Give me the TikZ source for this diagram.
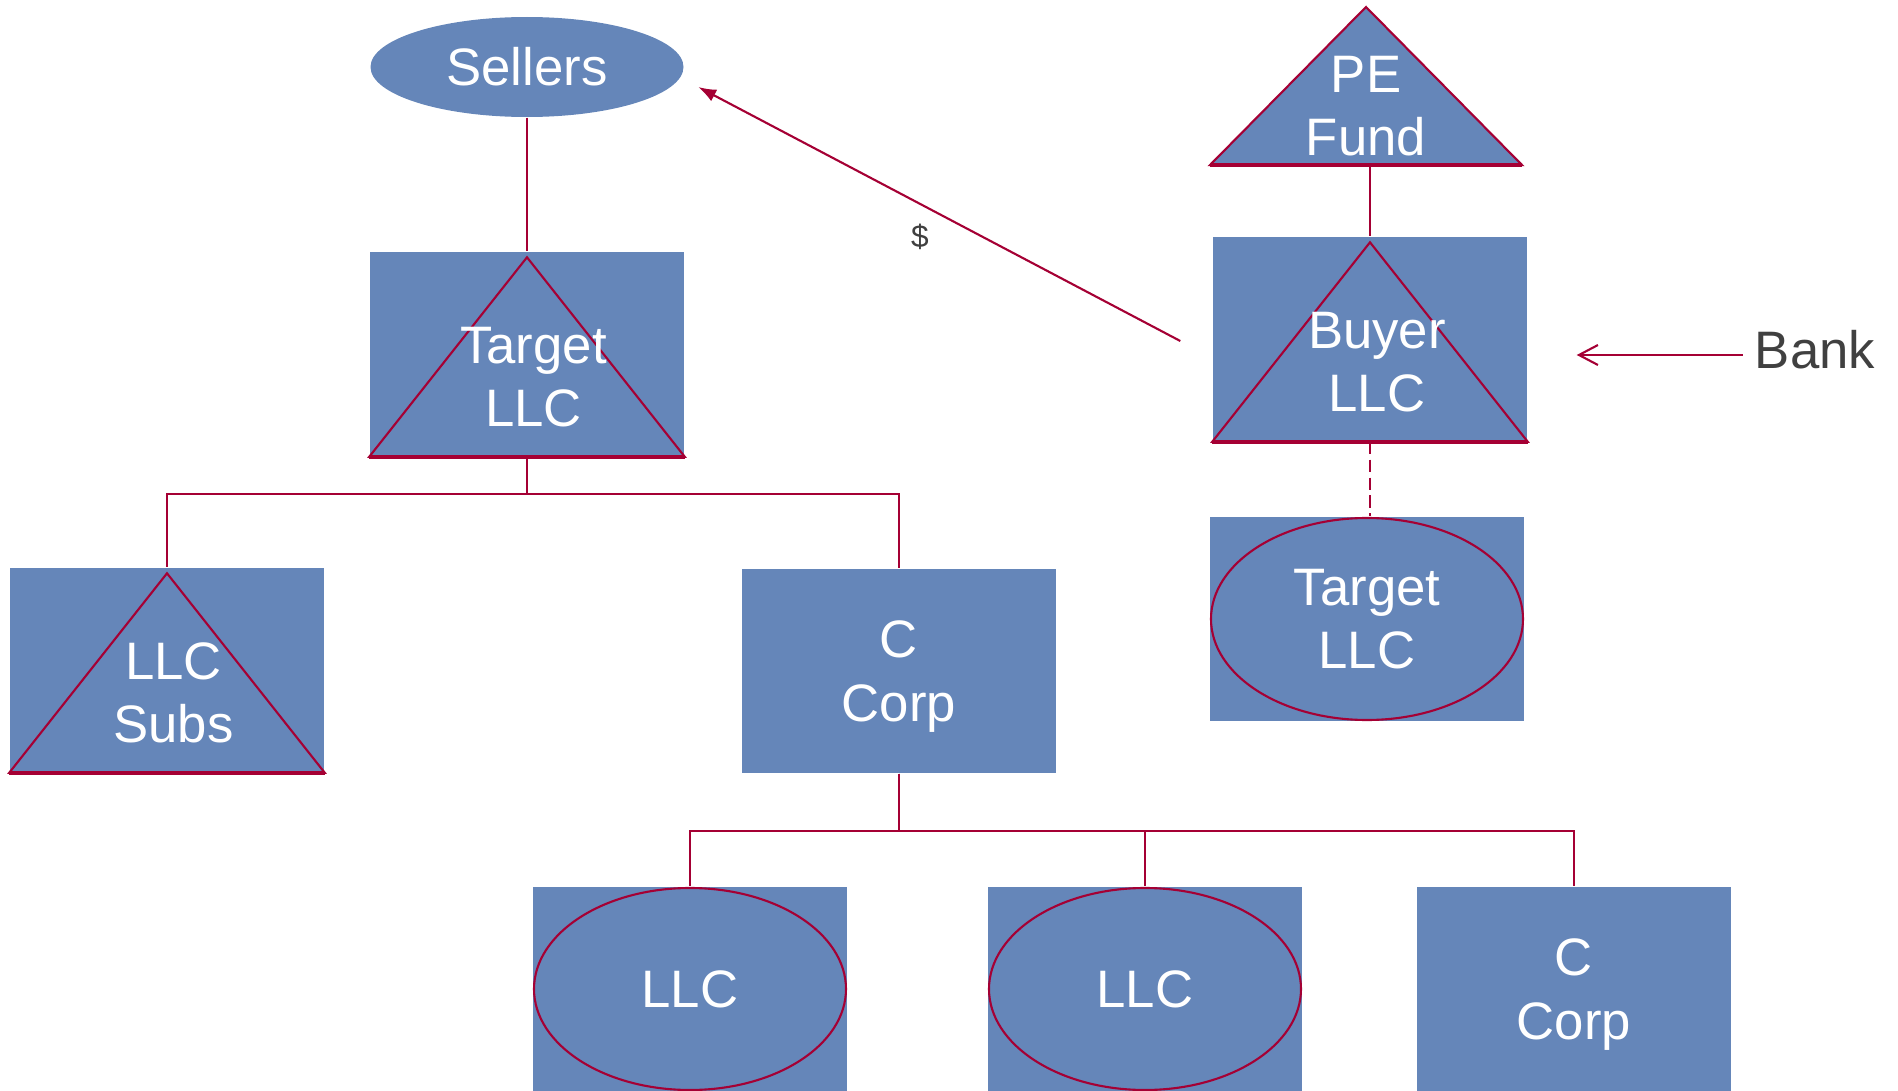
\documentclass[tikz,border=0pt]{standalone}
\usepackage{fontspec}
\setmainfont{Liberation Sans}
\usepackage{tikz}
\usetikzlibrary{shapes,arrows.meta,calc}

\definecolor{boxblue}{RGB}{101,134,185}
\definecolor{linkred}{RGB}{165,0,52}
\definecolor{bankgray}{RGB}{64,64,64}

\tikzset{
  box/.style={fill=boxblue, minimum width=3.14cm, minimum height=2.04cm, inner sep=0pt,
    text=white, align=center, font=\fontsize{15}{18}\selectfont},
  oval/.style={ellipse, fill=boxblue, minimum width=3.13cm, minimum height=1cm, inner sep=0pt,
    text=white, font=\fontsize{15}{18}\selectfont},
  lbl/.style={text=white, align=center, inner sep=0pt, font=\fontsize{15}{18}\selectfont},
  link/.style={draw=linkred, line width=0.6pt},
  base/.style={draw=linkred, line width=1.2pt},
  dollar/.style={text=bankgray, font=\fontsize{9}{11}\selectfont},
  bank/.style={text=bankgray, font=\fontsize{15}{18}\selectfont}
}

\begin{document}
\begin{tikzpicture}
\useasboundingbox (0,0) rectangle (18.98,10.90);

% Seller side
\node[oval] (sellers) at (5.27,10.23) {Sellers};
\node[box] (tgt) at (5.27,7.36) {};
\node[box] (subs) at (1.67,4.20) {};
\node[box, text depth=0pt] (cc) at (8.99,4.19) {C\\Corp};
\node[box] (llcA) at (6.90,1.01) {LLC};
\node[box] (llcB) at (11.45,1.01) {LLC};
\node[box, text depth=0pt] (ccB) at (15.74,1.01) {C\\Corp};

% Buyer side
\draw[link, fill=boxblue] (12.10,9.25) -- (13.66,10.83) -- (15.22,9.25) -- cycle;
\draw[base] (12.10,9.25) -- (15.22,9.25);
\coordinate (peb) at (13.70,9.25);
\node[lbl] (pe) at (13.66,9.84) {PE\\Fund};
\node[box] (buyer) at (13.70,7.51) {};
\node[box] (tgtR) at (13.67,4.71) {Target\\LLC};

% Triangles and ovals in the boxes
\foreach \n in {tgt,subs,buyer} {
  \draw[link] ([yshift=-0.06cm]\n.north) -- (\n.south east) -- (\n.south west) -- cycle;
  \draw[base] (\n.south west) -- (\n.south east);
}
\foreach \n in {tgtR,llcA,llcB}
  \draw[link] (\n.center) ellipse (1.56 and 1.01);

\node[lbl] (tgtT) at ($(tgt)+(0.065,-0.23)$) {Target\\LLC};
\node[lbl] (subsT) at ($(subs)+(0.065,-0.23)$) {LLC\\Subs};
\node[lbl] (buyerT) at ($(buyer)+(0.07,-0.23)$) {Buyer\\LLC};

% Ownership lines
\draw[link] (sellers.south) -- (tgt.north);
\draw[link] (tgt.south) -- ++(0,-0.37) -| (subs.north);
\draw[link] (tgt.south) -- ++(0,-0.37) -| (cc.north);
\foreach \n in {llcA,llcB,ccB}
  \draw[link] (cc.south) -- ++(0,-0.57) -| (\n.north);
\draw[link] (peb) -- (buyer.north);
\draw[link, dash pattern=on 3.5pt off 1.6pt] (buyer.south) -- (buyer.south |- tgtR.north);

% Cash and loan
\coordinate (payout) at ($(buyer.west)+(-0.32,-0.02)$);
\coordinate (payin) at ($(sellers.east)+(0.14,-0.20)$);
\draw[link, -{Latex[length=1.8mm,width=1.3mm]}] (payout) -- (payin)
  node[dollar, pos=0.54, below=2pt] {\$};

\node[bank] (bank) at (18.15,7.40) {Bank};
\coordinate (loan) at ($(buyer.east)+(0.49,-0.16)$);
\draw[link, -{Straight Barb[length=1.9mm,width=2mm]}] ([yshift=-0.05cm]bank.west) -- (loan);
\end{tikzpicture}
\end{document}
